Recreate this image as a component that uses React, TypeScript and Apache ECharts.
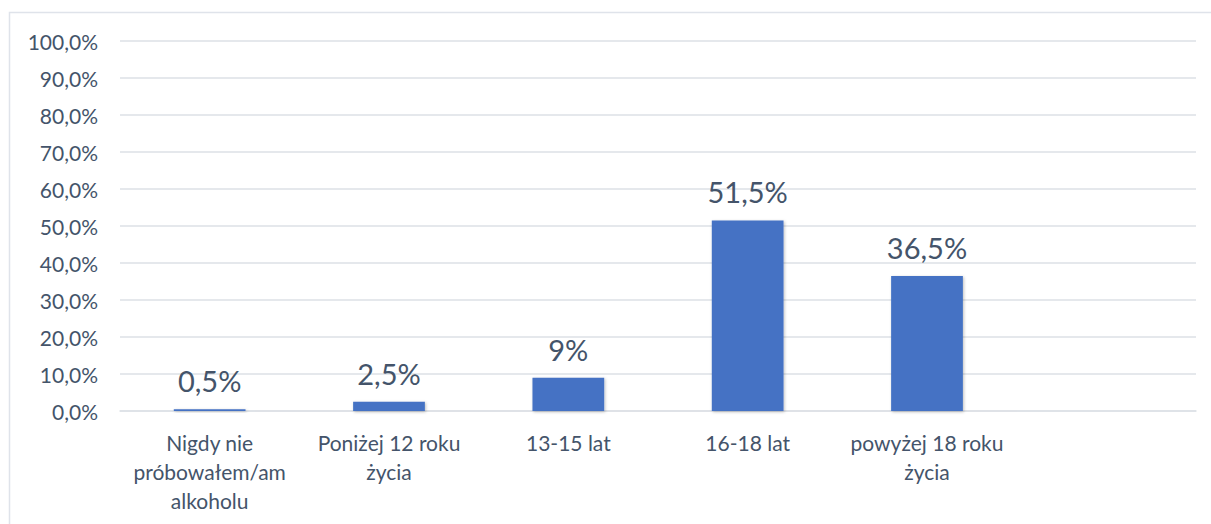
import React, { useEffect, useRef } from "react";
import * as echarts from "echarts";

const categories = [
  "Nigdy nie\npróbowałem/am\nalkoholu",
  "Poniżej 12 roku\nżycia",
  "13-15 lat",
  "16-18 lat",
  "powyżej 18 roku\nżycia",
  "",
];
const values: (number | null)[] = [0.5, 2.5, 9, 51.5, 36.5, null];
const valueLabels = ["0,5%", "2,5%", "9%", "51,5%", "36,5%", ""];
const yTickLabels = ["0,0%", "10,0%", "20,0%", "30,0%", "40,0%", "50,0%", "60,0%", "70,0%", "80,0%", "90,0%", "100,0%"];

const TEXT = "#44546a";
const GRID = "#dde1e6";
const FONT = "Lato, 'Open Sans', sans-serif";

export default function App() {
  const ref = useRef<HTMLDivElement>(null);
  useEffect(() => {
    document.body.style.margin = "0";
    const chart = echarts.init(ref.current!, null, { renderer: "svg" });
    chart.setOption({
      animation: false,
      textStyle: { fontFamily: FONT },
      graphic: [
        {
          type: "rect",
          shape: { x: 9.5, y: 12.5, width: 1300, height: 600 },
          style: { fill: "none", stroke: "#dfe3ea", lineWidth: 1.5 },
          silent: true,
          z: -10,
        },
      ],
      grid: { left: 120, right: 15, top: 41, bottom: 113, containLabel: false },
      xAxis: {
        type: "category",
        data: categories,
        axisLine: { show: true, lineStyle: { color: GRID, width: 1.5 } },
        axisTick: { show: false },
        axisLabel: {
          color: TEXT,
          fontSize: 21,
          fontFamily: FONT,
          lineHeight: 29,
          margin: 17,
          interval: 0,
        },
      },
      yAxis: {
        type: "value",
        min: 0,
        max: 100,
        interval: 10,
        axisLine: { show: false },
        axisTick: { show: false },
        splitLine: { lineStyle: { color: GRID, width: 1.5 } },
        axisLabel: {
          color: TEXT,
          fontSize: 21,
          fontFamily: FONT,
          margin: 22,
          formatter: (v: number) => yTickLabels[Math.round(v / 10)],
        },
      },
      series: [
        {
          type: "bar",
          data: values,
          barWidth: "40%",
          itemStyle: {
            color: "#4472c4",
            shadowBlur: 3,
            shadowColor: "rgba(0,0,0,0.25)",
            shadowOffsetX: 1,
            shadowOffsetY: 1,
          },
          label: {
            show: true,
            position: "top",
            distance: 14,
            color: TEXT,
            fontSize: 29,
            fontFamily: FONT,
            formatter: (p: any) => valueLabels[p.dataIndex],
          },
        },
      ],
    });
    return () => chart.dispose();
  }, []);
  return <div ref={ref} style={{ width: 1211, height: 524 }} />;
}
